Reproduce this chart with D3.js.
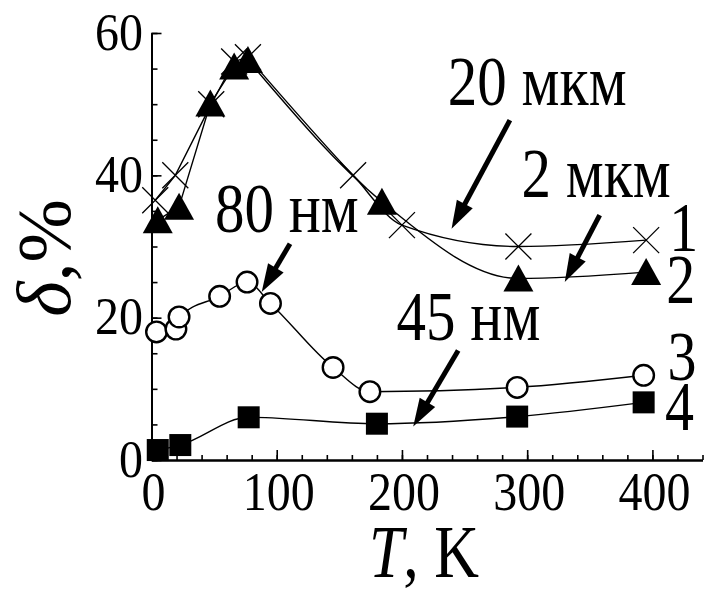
<!DOCTYPE html>
<html>
<head>
<meta charset="utf-8">
<script src="https://cdn.jsdelivr.net/npm/d3@7"></script>
<style>
    body { margin: 0; background: #fff; }
    svg { display: block; }
    text { font-family: "Liberation Serif", "Times New Roman", serif; fill: #000; }
</style>
</head>
<body>
<div id="chart"></div>
<script>
// data: T (K) vs delta (%)
const series1 = [[3, 36.5], [19, 40], [47.7, 50], [66, 56], [77, 56.6], [161, 40], [200, 33], [293, 30], [395, 30.9]];
const series2 = [[5, 33.7], [22, 35.6], [47, 50.1], [66, 55.3], [77, 56.2], [184, 36.3], [293, 25.5], [395, 26.4]];
const series3 = [[4, 18], [19.5, 18.4], [22, 20.1], [54.4, 23], [76.3, 25], [95, 22], [145, 13], [174.4, 9.6], [292, 10.2], [393, 11.9]];
const series4 = [[5, 1.4], [23, 2.1], [77.6, 6], [180, 5.1], [292, 6.1], [393, 8.1]];

const xMajor = [0, 100, 200, 300, 400];
const yMajor = [0, 20, 40, 60];

// curve numbers at the right end
const curveLabels = [
    {text: "1", x: 413.5, y: 29.4},
    {text: "2", x: 411, y: 22.1},
    {text: "3", x: 412, y: 11.2},
    {text: "4", x: 410, y: 4.2}
];

// size labels with arrows (x, y in data units)
const notes = [
    {text: "20", unit: "мкм", x: 236.6, y: 49.9, tail: [286.2, 47.75], tip: [239.6, 32.5]},
    {text: "2", unit: "мкм", x: 295.4, y: 37.0, tail: [357.9, 34.4], tip: [330, 25.0]},
    {text: "80", unit: "нм", x: 50.7, y: 32.1, tail: [110.6, 30.4], tip: [88, 23.6]},
    {text: "45", unit: "нм", x: 195.7, y: 16.9, tail: [244.9, 15.4], tip: [209, 4.7]}
];

const width = 714;
const height = 593;

const svg = d3.select("#chart")
              .append("svg")
              .attr("width", width)
              .attr("height", height);

const xScale = d3.scaleLinear().domain([0, 440]).range([151.5, 702.5]);
const yScale = d3.scaleLinear().domain([0, 60]).range([460, 33]);

// glyphs in the figure are drawn taller than wide, hence the y stretch
function addText(x, y, str, size, anchor, stretch) {
    return svg.append("text")
              .attr("transform", `translate(${x},${y}) scale(1,${stretch || 1.2})`)
              .attr("text-anchor", anchor || "start")
              .style("font-size", size + "px")
              .text(str);
}

// axes: minor ticks every 20 K / 5 %, major with labels
const axisG = svg.append("g").attr("class", "axes");
axisG.append("g")
     .attr("transform", `translate(0,${yScale(0)})`)
     .call(d3.axisBottom(xScale).tickValues(d3.range(0, 441, 20)).tickSize(-5).tickSizeOuter(0).tickFormat(""));
axisG.append("g")
     .attr("transform", `translate(0,${yScale(0)})`)
     .call(d3.axisBottom(xScale).tickValues(xMajor).tickSize(-10).tickSizeOuter(0).tickFormat(""));
axisG.append("g")
     .attr("transform", `translate(${xScale(0)},0)`)
     .call(d3.axisLeft(yScale).tickValues(d3.range(0, 61, 5)).tickSize(-6).tickSizeOuter(0).tickFormat(""));
axisG.append("g")
     .attr("transform", `translate(${xScale(0)},0)`)
     .call(d3.axisLeft(yScale).tickValues(yMajor).tickSize(-10).tickSizeOuter(0).tickFormat(""));
axisG.selectAll("path.domain").attr("stroke", "#000").attr("stroke-width", 2);
axisG.selectAll(".tick line").attr("stroke", "#000").attr("stroke-width", 1.6);

xMajor.forEach(v => addText(xScale(v) + 2, 510, v, 48, "middle", 1.15));
yMajor.forEach(v => addText(143, yScale(v) + 16.5, v, 48, "end", 1.12));

// axis titles
const xTitle = addText(424, 577, "", 62, "middle", 1.18);
xTitle.append("tspan").style("font-style", "italic").text("T");
xTitle.append("tspan").text(", K");

const yTitle = svg.append("text")
                  .attr("transform", "translate(70,258) rotate(-90)")
                  .attr("text-anchor", "middle")
                  .style("font-size", "76px");
yTitle.append("tspan").style("font-style", "italic").text("δ");
yTitle.append("tspan").text(",%");

// lines: straight segments up to the maximum, smooth afterwards
const straight = d3.line()
                   .x(d => xScale(d[0]))
                   .y(d => yScale(d[1]));
const smooth = d3.line()
                 .x(d => xScale(d[0]))
                 .y(d => yScale(d[1]))
                 .curve(d3.curveMonotoneX);

function drawPath(d) {
    svg.append("path")
       .attr("d", d)
       .attr("fill", "none")
       .attr("stroke", "#000")
       .attr("stroke-width", 1.4);
}

[series1, series2].forEach(s => {
    const peak = d3.maxIndex(s, d => d[1]);
    drawPath(straight(s.slice(0, peak + 1)));
    drawPath(smooth(s.slice(peak)));
});
[series3, series4].forEach(s => drawPath(smooth(s)));

// markers
const crossHalf = 13;
svg.selectAll("path.cross")
   .data(series1)
   .enter()
   .append("path")
   .attr("class", "cross")
   .attr("d", d => {
       const cx = xScale(d[0]), cy = yScale(d[1]);
       return `M${cx - crossHalf},${cy - crossHalf}L${cx + crossHalf},${cy + crossHalf}` +
              `M${cx - crossHalf},${cy + crossHalf}L${cx + crossHalf},${cy - crossHalf}`;
   })
   .attr("stroke", "#000")
   .attr("stroke-width", 1.3);

svg.selectAll("path.tri")
   .data(series2)
   .enter()
   .append("path")
   .attr("class", "tri")
   .attr("d", d => {
       const cx = xScale(d[0]), cy = yScale(d[1]);
       return `M${cx},${cy - 14}L${cx + 15},${cy + 13}L${cx - 15},${cy + 13}Z`;
   })
   .attr("fill", "#000");

svg.selectAll("circle.ring")
   .data(series3)
   .enter()
   .append("circle")
   .attr("class", "ring")
   .attr("cx", d => xScale(d[0]))
   .attr("cy", d => yScale(d[1]))
   .attr("r", 10.3)
   .attr("fill", "#fff")
   .attr("stroke", "#000")
   .attr("stroke-width", 2.4);

svg.selectAll("rect.sq")
   .data(series4)
   .enter()
   .append("rect")
   .attr("class", "sq")
   .attr("x", d => xScale(d[0]) - 11)
   .attr("y", d => yScale(d[1]) - 11)
   .attr("width", 22)
   .attr("height", 22)
   .attr("fill", "#000");

// curve numbers
curveLabels.forEach(d => addText(xScale(d.x), yScale(d.y), d.text, 58, "start"));

// annotations with arrows
notes.forEach(d => {
    const t = addText(xScale(d.x), yScale(d.y), "", 59, "start");
    t.append("tspan").text(d.text + " ");
    t.append("tspan").style("font-size", "60px").text(d.unit);

    const x1 = xScale(d.tail[0]), y1 = yScale(d.tail[1]);
    const x2 = xScale(d.tip[0]), y2 = yScale(d.tip[1]);
    const len = Math.hypot(x2 - x1, y2 - y1);
    const ux = (x2 - x1) / len, uy = (y2 - y1) / len;
    const headLen = 28, headHalf = 9;
    const bx = x2 - ux * headLen, by = y2 - uy * headLen;
    svg.append("line")
       .attr("x1", x1).attr("y1", y1)
       .attr("x2", bx + ux * 2).attr("y2", by + uy * 2)
       .attr("stroke", "#000")
       .attr("stroke-width", 5);
    svg.append("path")
       .attr("d", `M${x2},${y2}L${bx - uy * headHalf},${by + ux * headHalf}L${bx + uy * headHalf},${by - ux * headHalf}Z`)
       .attr("fill", "#000");
});
</script>
</body>
</html>
